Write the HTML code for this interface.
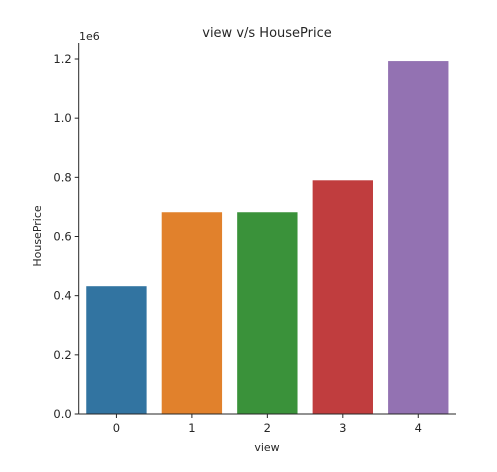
<!DOCTYPE html>
<html><head><meta charset="utf-8"><style>
body{margin:0;background:#fff;}
svg text{font-family:"DejaVu Sans","Liberation Sans",sans-serif;fill:#262626;}
</style></head><body>
<svg width="497" height="467" xmlns="http://www.w3.org/2000/svg">
<text x="267" y="37" font-size="13" text-anchor="middle">view v/s HousePrice</text>
<text x="79" y="40" font-size="11">1e6</text>
<text x="267" y="451" font-size="11" text-anchor="middle">view</text>
<text transform="translate(41,236) rotate(-90)" font-size="11" text-anchor="middle">HousePrice</text>
<g id="bars"></g>
<g id="axes"></g>
</svg>
<script>
const categories=["0","1","2","3","4"];
const values=[432000,682000,682000,790000,1193000];
const colors=["#3274a1","#e1812c","#3a923a","#c03d3e","#9372b2"];
const yTicks=[0,0.2,0.4,0.6,0.8,1.0,1.2];
const yTickLabels=["0.0","0.2","0.4","0.6","0.8","1.0","1.2"];
const NS="http://www.w3.org/2000/svg";
const x0=78.7,x1=456,yb=414,yt=43;
const band=(x1-x0)/categories.length;
function xc(i){return x0+band*(i+0.5);}
function y(v){return yb-v/1.2e6*355;}
const bars=document.getElementById('bars'),axes=document.getElementById('axes');
function mk(t,a,p){const e=document.createElementNS(NS,t);for(const k in a)e.setAttribute(k,a[k]);p.appendChild(e);return e;}
values.forEach((v,i)=>{
 const r=mk('rect',{x:xc(i)-band*0.4,y:y(v),width:band*0.8,height:yb-y(v),fill:colors[i]},bars);
 
 
 const t=mk('line',{x1:xc(i),x2:xc(i),y1:yb,y2:yb+4,stroke:'#262626'},axes);
 
 
 const l=mk('text',{x:xc(i),y:yb+18,'font-size':11.5,'text-anchor':'middle'},axes);
 l.textContent=categories[i];
 
 
});
yTicks.forEach((v,i)=>{
 const yy=y(v*1e6);
 const t=mk('line',{x1:x0-4,x2:x0,y1:yy,y2:yy,stroke:'#262626'},axes);
 
 
 const l=mk('text',{x:x0-7,y:yy+4,'font-size':11.5,'text-anchor':'end'},axes);
 l.textContent=yTickLabels[i];
 
 
});
const ya=mk('line',{x1:x0,x2:x0,y1:yt,y2:yb,stroke:'#262626'},axes);


const xa=mk('line',{x1:x0,x2:x1,y1:yb,y2:yb,stroke:'#262626'},axes);


</script>
</body></html>
